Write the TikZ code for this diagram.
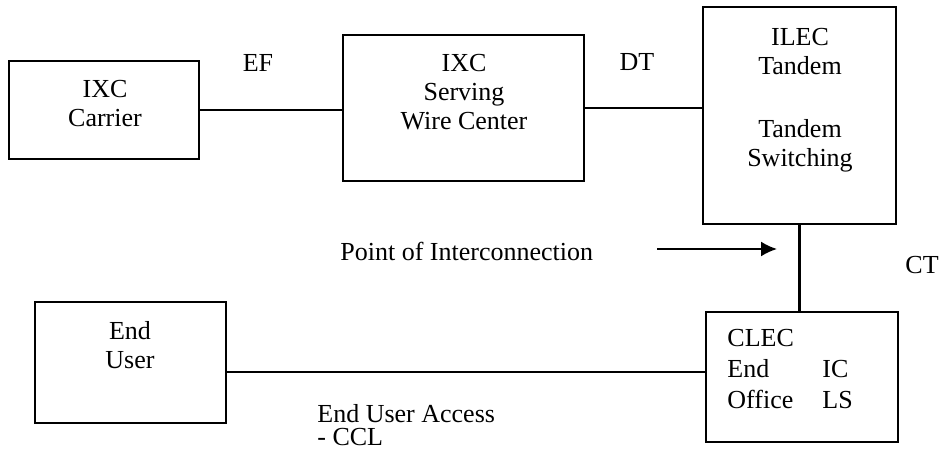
\documentclass[tikz,border=0pt]{standalone}
\usepackage{fontspec}
\setmainfont{Liberation Serif}
\usetikzlibrary{arrows.meta,fit}
\begin{document}
\begin{tikzpicture}[x=0.5pt,y=-0.5pt,
  box/.style={draw=black,line width=1.3pt,inner sep=0pt},
  lbl/.style={inner sep=0pt,font=\fontsize{13}{14.5}\selectfont,align=center},
  wire/.style={draw=black,line width=1.2pt},
  pointer/.style={draw=black,line width=1pt,-{Latex[length=8pt,width=7.5pt]}}]
\useasboundingbox (0,0) rectangle (942,455);

% switching offices and end points
\node[box,fit={(9,61)(199,159)}] (carrier) {};
\node[box,fit={(343,35)(584,181)}] (serving) {};
\node[box,fit={(703,7)(896,224)}] (ilec) {};
\node[box,fit={(35,302)(226,423)}] (enduser) {};
\node[box,fit={(706,312)(898,442)}] (clec) {};

% box captions
\node[lbl] (carrierTxt) at (105,104) {IXC\\Carrier};
\node[lbl] (servingTxt) at (464,92) {IXC\\Serving\\Wire Center};
\node[lbl] (ilecTxt) at (800,100) {ILEC\\Tandem\\[17pt]Tandem\\Switching};
\node[lbl] (enduserTxt) at (130,345) {End\\User};
\node[lbl,anchor=base west,font=\fontsize{13}{15.5}\selectfont] (clecTxt) at (727,346.5)
  {\begin{tabular}[t]{@{}l@{\hspace{14.3pt}}l@{}}CLEC & \\ End & IC\\ Office & LS\end{tabular}};

% trunk labels
\node[lbl] (ef) at (258,63) {EF};
\node[lbl] (dt) at (637,62) {DT};
\node[lbl,anchor=west] (ct) at (905,265) {CT};
\node[lbl,anchor=west] (poi) at (340,251) {Point of Interconnection};
\node[lbl,anchor=north west,align=left,font=\fontsize{13}{11.5}\selectfont] (access) at (317,404)
  {End User Access\\- CCL};

% trunks
\draw[wire] (carrier.east) -- (carrier.east -| serving.west);
\draw[wire] (serving.east) -- (serving.east -| ilec.west);
\draw[wire] (ilec.south) -- (ilec.south |- clec.north);
\draw[wire] ([yshift=2.5pt]clec.west) -- ([yshift=2.5pt]clec.west -| enduser.east);

% point of interconnection marker
\coordinate (poiTail) at (657,249);
\coordinate (poiTip) at (777,249);
\draw[pointer] (poiTail) -- (poiTip);
\end{tikzpicture}
\end{document}
